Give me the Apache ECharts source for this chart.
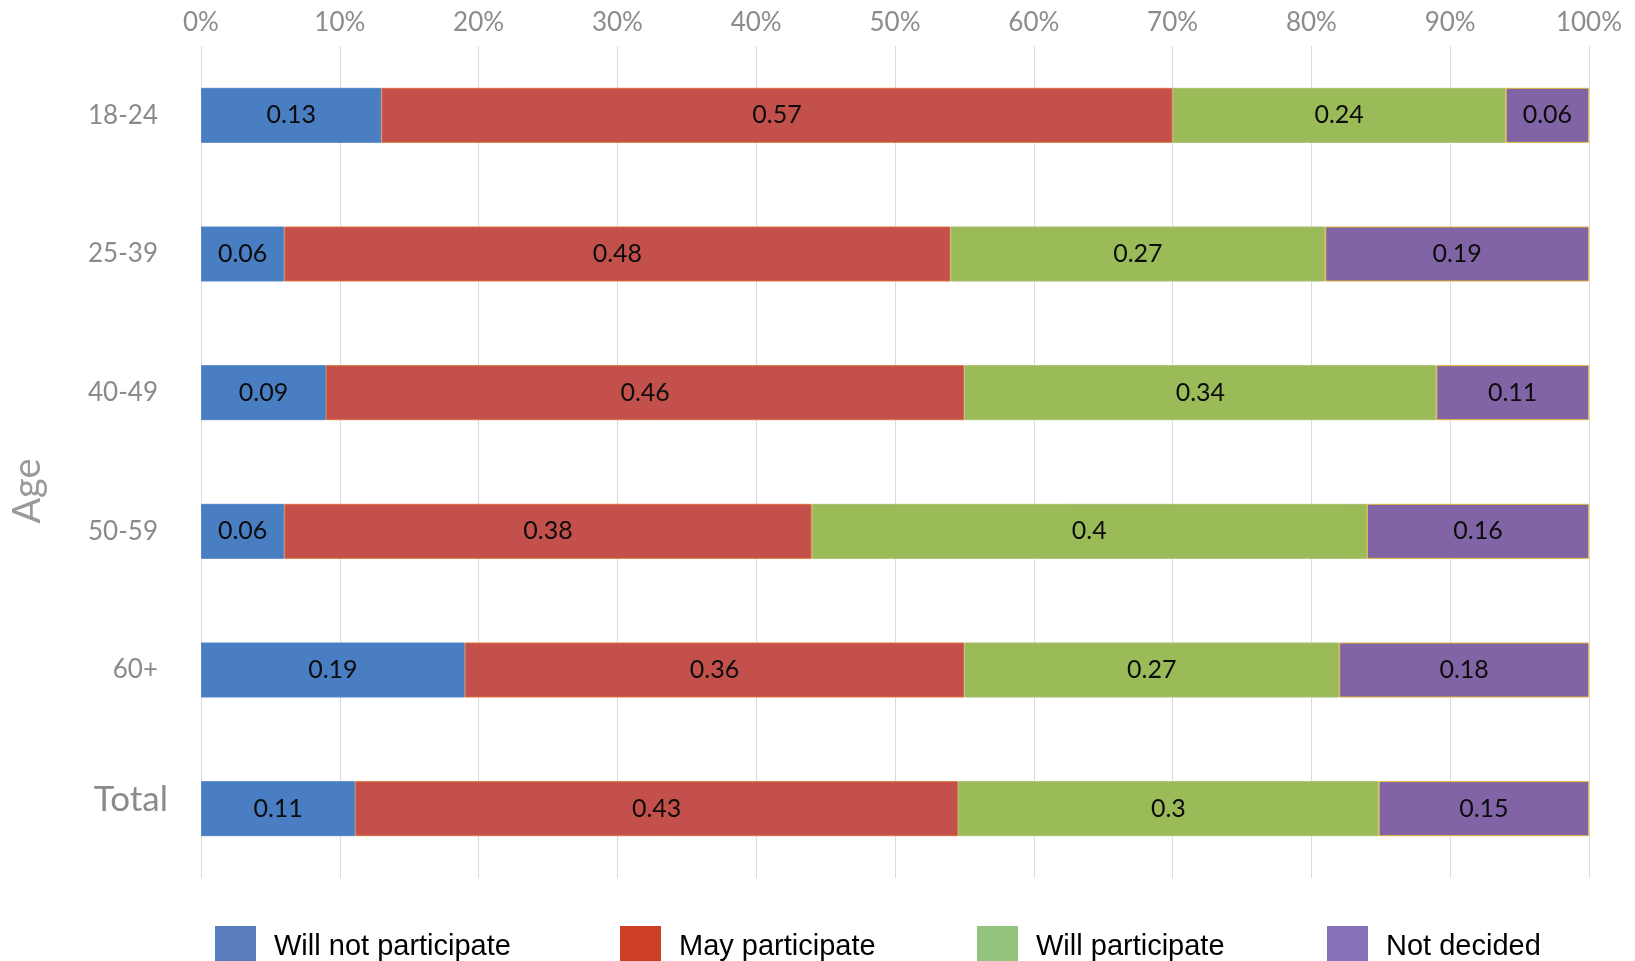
<!DOCTYPE html>
<html>
<head>
<meta charset="utf-8">
<title>Participation by age</title>
<script src="https://cdn.jsdelivr.net/npm/echarts@6/dist/echarts.min.js"></script>
<style>
  html, body { margin: 0; padding: 0; background: #ffffff; }
  #chart { width: 1635px; height: 961px; }
</style>
</head>
<body>
<div id="chart"></div>
<script>
// Age groups, top to bottom
const categories = ['18-24', '25-39', '40-49', '50-59', '60+', 'Total'];

// Share of respondents in each group
const willNot   = [0.13, 0.06, 0.09, 0.06, 0.19, 0.11];
const may       = [0.57, 0.48, 0.46, 0.38, 0.36, 0.43];
const will      = [0.24, 0.27, 0.34, 0.40, 0.27, 0.30];
const undecided = [0.06, 0.19, 0.11, 0.16, 0.18, 0.15];

const seriesNames = ['Will not participate', 'May participate', 'Will participate', 'Not decided'];
const seriesValues = [willNot, may, will, undecided];

const barColors    = ['#4a7ec3', '#c4504c', '#9bbb59', '#8064a6'];
const borderColors = ['#4f86c8', '#e0703a', '#a9be6a', '#e4b43c'];
const legendColors = ['#587cbc', '#cc3f26', '#93c47d', '#8571b7'];
const legendLeft   = [215, 620, 977, 1327];

// Each bar is scaled so the row fills 100%
const rowTotals = categories.map((_, i) =>
  seriesValues.reduce((s, arr) => s + arr[i], 0));

const chart = echarts.init(document.getElementById('chart'));

const series = seriesNames.map((name, k) => ({
  name: name,
  type: 'bar',
  stack: 'share',
  barWidth: 55,
  data: seriesValues[k].map((v, i) => ({ value: v / rowTotals[i] * 100, raw: v })),
  itemStyle: { color: barColors[k], borderColor: borderColors[k], borderWidth: 1 },
  label: {
    show: true,
    position: 'inside',
    fontFamily: 'Lato',
    fontSize: 25,
    color: '#0c0c0c',
    formatter: p => String(p.data.raw)
  },
  emphasis: { disabled: true }
}));

const legends = seriesNames.map((name, k) => ({
  data: [{ name: name, itemStyle: { color: legendColors[k], borderWidth: 0 } }],
  left: legendLeft[k],
  top: 926,
  padding: 0,
  itemWidth: 41,
  itemHeight: 41,
  icon: 'rect',
  selectedMode: false,
  textStyle: {
    fontFamily: 'Liberation Sans',
    fontSize: 29,
    lineHeight: 30,
    color: '#000000',
    padding: [0, 0, 11, 13]
  }
}));

chart.setOption({
  animation: false,
  grid: { left: 201, right: 46, top: 46, bottom: 83, containLabel: false, outerBoundsMode: 'none' },
  legend: legends,
  xAxis: {
    type: 'value',
    position: 'top',
    min: 0,
    max: 100,
    interval: 10,
    axisLine: { show: false },
    axisTick: { show: false },
    splitLine: { show: true, lineStyle: { color: '#dadada', width: 1 } },
    axisLabel: {
      formatter: '{value}%',
      fontFamily: 'Lato',
      fontSize: 26,
      color: '#8c8c8c',
      margin: 10
    }
  },
  yAxis: {
    type: 'category',
    inverse: true,
    data: categories,
    axisLine: { show: false },
    axisTick: { show: false },
    name: 'Age',
    nameLocation: 'middle',
    nameRotate: 90,
    nameGap: 154,
    nameTextStyle: {
      fontFamily: 'Lato',
      fontSize: 38,
      color: '#9a9a9a',
      padding: [0, 58, 0, 0]
    },
    axisLabel: {
      margin: 33,
      formatter: v => v === 'Total' ? '{t|' + v + '}' : '{a|' + v + '}',
      rich: {
        a: { fontFamily: 'Lato', fontSize: 26, color: '#8a8a8a', padding: [0, 10, 0, 0] },
        t: { fontFamily: 'Lato', fontSize: 35, color: '#8a8a8a', padding: [0, 0, 18, 0] }
      }
    }
  },
  series: series
});
</script>
</body>
</html>
